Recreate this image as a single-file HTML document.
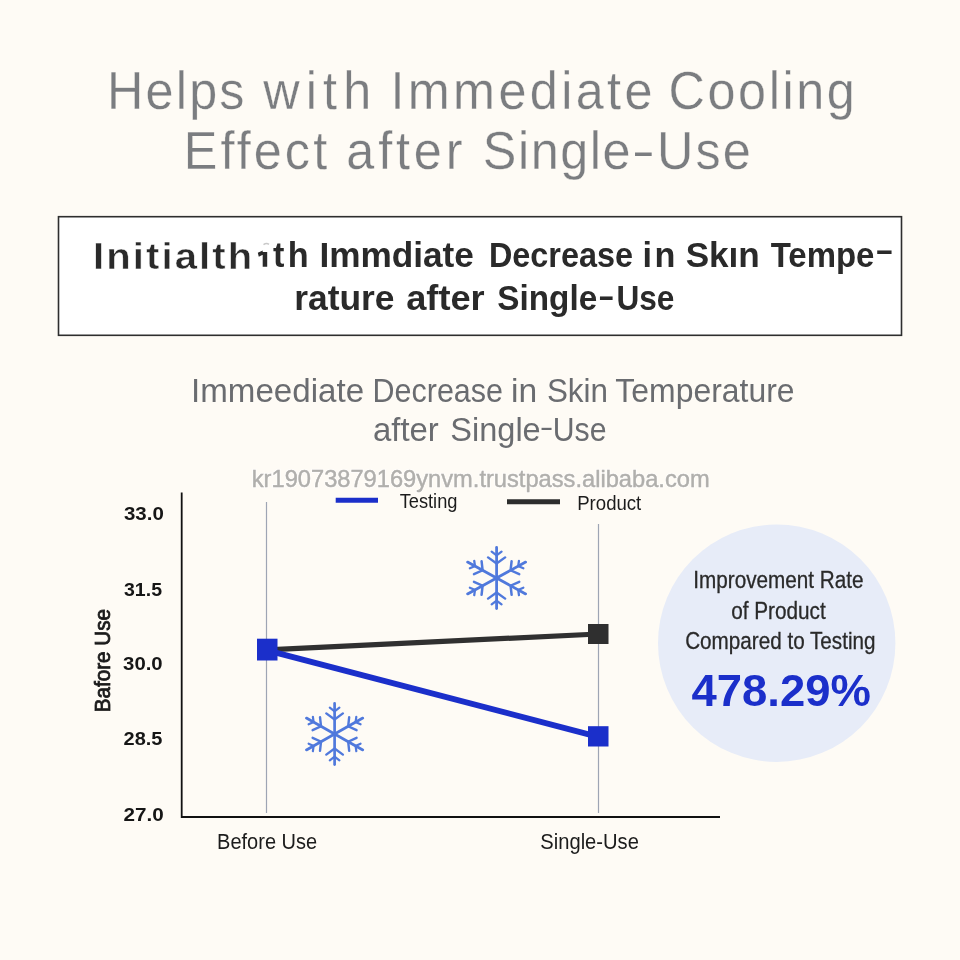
<!DOCTYPE html>
<html lang="en">
<head>
<meta charset="utf-8">
<title>Immediate Cooling Effect</title>
<style>
  html, body { margin: 0; padding: 0; }
  body { width: 960px; height: 960px; overflow: hidden; background: #fefbf5; font-family: "Liberation Sans", sans-serif; }
  svg { will-change: transform; display: block; position: absolute; left: 0; top: 0; }
  text { font-family: "Liberation Sans", sans-serif; }
</style>
</head>
<body>
<svg width="960" height="960" viewBox="0 0 960 960">
  <rect x="0" y="0" width="960" height="960" fill="#fefbf5"/>
  <!-- Title -->
  <text transform="translate(106.97 108.50) scale(0.9500 1.0000)" font-size="53" letter-spacing="2.328" fill="#7b7d80" stroke="#fefbf5" stroke-width="0.3">Helps</text>
  <text transform="translate(263.30 108.50) scale(0.9500 1.0000)" font-size="53" letter-spacing="6.422" fill="#7b7d80" stroke="#fefbf5" stroke-width="0.3">with</text>
  <text transform="translate(390.47 108.50) scale(0.9500 1.0000)" font-size="53" letter-spacing="3.541" fill="#7b7d80" stroke="#fefbf5" stroke-width="0.3">Immediate</text>
  <text transform="translate(668.48 108.50) scale(0.9500 1.0000)" font-size="53" letter-spacing="2.737" fill="#7b7d80" stroke="#fefbf5" stroke-width="0.3">Cooling</text>
  <text transform="translate(183.77 169.40) scale(0.9500 1.0000)" font-size="53" letter-spacing="3.272" fill="#7b7d80" stroke="#fefbf5" stroke-width="0.3">Effect</text>
  <text transform="translate(346.29 169.40) scale(0.9500 1.0000)" font-size="53" letter-spacing="4.071" fill="#7b7d80" stroke="#fefbf5" stroke-width="0.3">after</text>
  <text transform="translate(482.73 169.40) scale(0.9500 1.0000)" font-size="53" letter-spacing="1.654" fill="#7b7d80" stroke="#fefbf5" stroke-width="0.3">Single</text>
  <text transform="translate(656.92 169.40) scale(0.9500 1.0000)" font-size="53" letter-spacing="2.248" fill="#7b7d80" stroke="#fefbf5" stroke-width="0.3">Use</text>
  <text transform="translate(631.93 166.24) scale(1.2861 0.8500)" font-size="53" fill="#7b7d80">-</text>
  <!-- Boxed heading -->
  <rect x="58.5" y="216.7" width="843" height="118.6" fill="#ffffff" stroke="#2e2e2e" stroke-width="1.6"/>
  <text transform="translate(92.99 269.40) scale(1.0900 1.0000)" font-size="36.8" font-weight="bold" letter-spacing="1.905" fill="#2a2a2a" stroke="#ffffff" stroke-width="0.5">Initialth</text>
  <text transform="translate(273.06 266.70) scale(1.0000 1.0000)" font-size="34.2" font-weight="bold" letter-spacing="3.375" fill="#2a2a2a">th</text>
  <text transform="translate(319.41 266.70) scale(1.0292 1.0000)" font-size="34.2" font-weight="bold" fill="#2a2a2a">Immdiate</text>
  <text transform="translate(488.90 266.70) scale(0.9468 1.0000)" font-size="34.2" font-weight="bold" fill="#2a2a2a">Decrease</text>
  <text transform="translate(642.61 266.70) scale(1.0000 1.0000)" font-size="34.2" font-weight="bold" letter-spacing="2.308" fill="#2a2a2a">in</text>
  <text transform="translate(685.65 266.70) scale(1.0277 1.0000)" font-size="34.2" font-weight="bold" fill="#2a2a2a">Skın</text>
  <text transform="translate(770.67 266.70) scale(0.9634 1.0000)" font-size="34.2" font-weight="bold" fill="#2a2a2a">Tempe</text>
  <text transform="translate(294.20 310.00) scale(1.0349 1.0000)" font-size="34.2" font-weight="bold" fill="#2a2a2a">rature</text>
  <text transform="translate(406.21 310.00) scale(1.0595 1.0000)" font-size="34.2" font-weight="bold" fill="#2a2a2a">after</text>
  <text transform="translate(497.30 310.00) scale(0.9733 1.0000)" font-size="34.2" font-weight="bold" fill="#2a2a2a">Single</text>
  <text transform="translate(616.40 310.00) scale(0.9242 1.0000)" font-size="34.2" font-weight="bold" fill="#2a2a2a">Use</text>
  <path d="M262.7 252 L267.2 252 L267.2 266.7 L262.7 266.7 Z M257.8 252.8 L262.7 250.4 L262.7 254.8 L258.8 256.8 Z" fill="#2a2a2a"/>
  <path d="M263.5 244.6 Q266.5 242.6 269 244.4" fill="none" stroke="#c9c9c9" stroke-width="1.6"/>
  <text transform="translate(875.04 260.26) scale(1.6512 0.8500)" font-size="34.2" font-weight="bold" fill="#2a2a2a">-</text>
  <text transform="translate(598.01 305.76) scale(1.4563 0.8500)" font-size="34.2" font-weight="bold" fill="#2a2a2a">-</text>
  <!-- Sub heading -->
  <text transform="translate(191.02 401.70) scale(1.0105 1.0000)" font-size="32.8" fill="#6a6c70">Immeediate</text>
  <text transform="translate(372.56 401.70) scale(0.9297 1.0000)" font-size="32.8" fill="#6a6c70">Decrease</text>
  <text transform="translate(511.11 401.70) scale(1.0257 1.0000)" font-size="32.8" fill="#6a6c70">in</text>
  <text transform="translate(546.89 401.70) scale(0.9587 1.0000)" font-size="32.8" fill="#6a6c70">Skin</text>
  <text transform="translate(615.36 401.70) scale(0.9740 1.0000)" font-size="32.8" fill="#6a6c70">Temperature</text>
  <text transform="translate(372.98 441.00) scale(1.0032 1.0000)" font-size="32.8" fill="#6a6c70">after</text>
  <text transform="translate(450.23 441.00) scale(0.9928 1.0000)" font-size="32.8" fill="#6a6c70">Single</text>
  <text transform="translate(552.73 441.00) scale(0.9211 1.0000)" font-size="32.8" fill="#6a6c70">Use</text>
  <text transform="translate(539.86 435.69) scale(1.2444 0.8500)" font-size="32.8" fill="#6a6c70">-</text>
  <!-- Circle callout -->
  <circle cx="776.7" cy="643.2" r="118.7" fill="#e7ecf8"/>
  <text transform="translate(693.34 587.80) scale(0.8886 1.0000)" font-size="23.3" fill="#2a2a2a" stroke="#2a2a2a" stroke-width="0.3">Improvement Rate</text>
  <text transform="translate(731.17 619.40) scale(0.8898 1.0000)" font-size="23.3" fill="#2a2a2a" stroke="#2a2a2a" stroke-width="0.3">of Product</text>
  <text transform="translate(685.17 649.00) scale(0.8876 1.0000)" font-size="23.3" fill="#2a2a2a" stroke="#2a2a2a" stroke-width="0.3">Compared to Testing</text>
  <text transform="translate(691.52 705.80) scale(1.0094 1.0000)" font-size="45" font-weight="bold" fill="#1b2fca">478.29%</text>
  <!-- Chart axes and gridlines -->
  <line x1="266.5" y1="502" x2="266.5" y2="813" stroke="#9ea5b4" stroke-width="1.2"/>
  <line x1="598.5" y1="524" x2="598.5" y2="813" stroke="#9ea5b4" stroke-width="1.2"/>
  <line x1="181.7" y1="492.5" x2="181.7" y2="818" stroke="#111111" stroke-width="1.8"/>
  <line x1="181" y1="817" x2="720" y2="817" stroke="#111111" stroke-width="1.8"/>
  <!-- Watermark -->
  <defs><text id="wm" transform="translate(251.76 487.00) scale(0.9830 1.0000)" font-size="24.1">kr19073879169ynvm.trustpass.alibaba.com</text></defs>
  <use href="#wm" fill="none" stroke="#ffffff" stroke-opacity="0.55" stroke-width="2.4"/>
  <use href="#wm" fill="#b0afac" stroke="#b0afac" stroke-width="0.45"/>
  <!-- Legend -->
  <line x1="335.7" y1="500.3" x2="378" y2="500.3" stroke="#1b2fca" stroke-width="5"/>
  <text transform="translate(399.63 508.00) scale(0.9140 1.0000)" font-size="20" fill="#1c1c1c">Testing</text>
  <line x1="507" y1="501.8" x2="560" y2="501.8" stroke="#2d2d2d" stroke-width="5"/>
  <text transform="translate(577.21 510.00) scale(0.9301 1.0000)" font-size="20" fill="#1c1c1c">Product</text>
  <!-- Y tick labels -->
  <text transform="translate(123.99 520.00) scale(1.0835 1.0000)" font-size="18.9" font-weight="bold" fill="#161616">33.0</text>
  <text transform="translate(124.01 595.70) scale(1.0331 1.0000)" font-size="18.9" font-weight="bold" fill="#161616">31.5</text>
  <text transform="translate(123.09 669.70) scale(1.0751 1.0000)" font-size="18.9" font-weight="bold" fill="#161616">30.0</text>
  <text transform="translate(123.60 744.50) scale(1.0582 1.0000)" font-size="18.9" font-weight="bold" fill="#161616">28.5</text>
  <text transform="translate(123.58 820.50) scale(1.0950 1.0000)" font-size="18.9" font-weight="bold" fill="#161616">27.0</text>
  <!-- Y axis title -->
  <text transform="translate(110.20 712.25) rotate(-90) scale(0.9466 1)" font-size="21.8" fill="#1a1a1a" stroke="#1a1a1a" stroke-width="0.8">Bafore Use</text>
  <!-- X labels -->
  <text transform="translate(217.10 848.70) scale(0.8859 1.0000)" font-size="22.6" fill="#1c1c1c">Before Use</text>
  <text transform="translate(540.29 848.70) scale(0.8923 1.0000)" font-size="22.6" fill="#1c1c1c">Single-Use</text>
  <!-- Data lines and markers -->
  <line x1="267.2" y1="649.8" x2="598.2" y2="634" stroke="#303030" stroke-width="5.2"/>
  <line x1="267.2" y1="650.3" x2="598.2" y2="736.8" stroke="#1b2fca" stroke-width="6"/>
  <rect x="588" y="624" width="20.5" height="20" fill="#2f2f2f"/>
  <rect x="588" y="726.2" width="20.5" height="20.3" fill="#1b2fca"/>
  <rect x="257" y="638.7" width="20.5" height="21.8" fill="#1b2fca"/>
  <!-- Snowflakes -->
<defs>
  <g id="armv" fill="none" stroke="#5079dc" stroke-linecap="round">
    <line x1="0" y1="0" x2="0" y2="-30.6" stroke-width="2.7"/>
    <polyline points="-8.3,-20.6 0,-14.6 8.3,-20.6" stroke-width="2.4"/>
    <polyline points="-4.8,-26.4 0,-22.7 4.8,-26.4" stroke-width="2.2"/>
  </g>
  <g id="armd" fill="none" stroke="#5079dc" stroke-linecap="round">
    <line x1="0" y1="0" x2="0" y2="-32.4" stroke-width="2.7"/>
    <polyline points="-7.5,-21 0,-15.6 7.5,-21" stroke-width="2.4"/>
    <polyline points="-4.3,-27.4 0,-24.1 4.3,-27.4" stroke-width="2.2"/>
  </g>
  <g id="flake">
    <use href="#armv"/>
    <use href="#armd" transform="rotate(60.5)"/>
    <use href="#armd" transform="rotate(119.5)"/>
    <use href="#armv" transform="rotate(180)"/>
    <use href="#armd" transform="rotate(240.5)"/>
    <use href="#armd" transform="rotate(299.5)"/>
  </g>
</defs>
<use href="#flake" transform="translate(496.6 578) scale(1.03 1)"/>
<use href="#flake" transform="translate(334.6 734)"/>
</svg>
</body>
</html>
